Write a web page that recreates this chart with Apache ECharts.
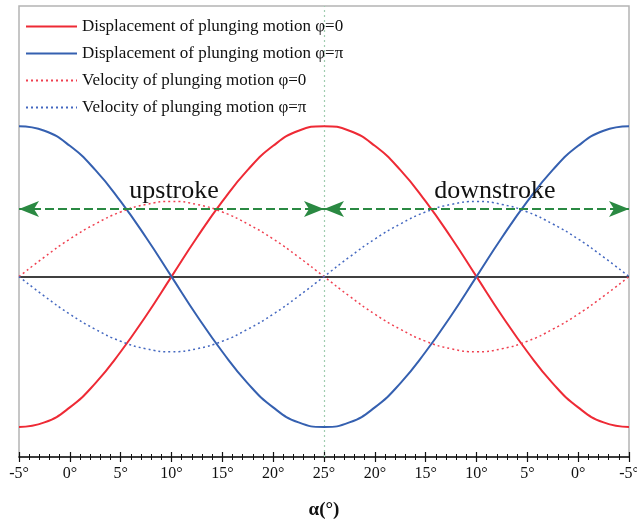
<!DOCTYPE html>
<html>
<head>
<meta charset="utf-8">
<script src="https://cdn.jsdelivr.net/npm/echarts@6/dist/echarts.min.js"></script>
<style>
  html, body { margin: 0; padding: 0; background: #fff; }
  #chart { width: 637px; height: 522px; }
</style>
</head>
<body>
<div id="chart"></div>
<script>
// tick labels along the stroke: -5° up to 25°, then back down to -5°
const tickLabels = ['-5°', '0°', '5°', '10°', '15°', '20°', '25°', '20°', '15°', '10°', '5°', '0°', '-5°'];

// sample positions (in tick steps, one step = 5°)
const xs = [0, 0.5, 1, 1.5, 2, 2.5, 3, 3.5, 4, 4.5, 5, 5.5, 6, 6.5, 7, 7.5, 8, 8.5, 9, 9.5, 10, 10.5, 11, 11.5, 12];

// values (displacement amplitude = 1)
const dispPhi0 = [-1, -0.97, -0.87, -0.71, -0.5, -0.26, 0, 0.26, 0.5, 0.71, 0.87, 0.97, 1, 0.97, 0.87, 0.71, 0.5, 0.26, 0, -0.26, -0.5, -0.71, -0.87, -0.97, -1];
const dispPhiPi = [1, 0.97, 0.87, 0.71, 0.5, 0.26, 0, -0.26, -0.5, -0.71, -0.87, -0.97, -1, -0.97, -0.87, -0.71, -0.5, -0.26, 0, 0.26, 0.5, 0.71, 0.87, 0.97, 1];
const velPhi0 = [0, 0.13, 0.25, 0.35, 0.43, 0.48, 0.5, 0.48, 0.43, 0.35, 0.25, 0.13, 0, -0.13, -0.25, -0.35, -0.43, -0.48, -0.5, -0.48, -0.43, -0.35, -0.25, -0.13, 0];
const velPhiPi = [0, -0.13, -0.25, -0.35, -0.43, -0.48, -0.5, -0.48, -0.43, -0.35, -0.25, -0.13, 0, 0.13, 0.25, 0.35, 0.43, 0.48, 0.5, 0.48, 0.43, 0.35, 0.25, 0.13, 0];

const seriesNames = [
  'Displacement of plunging motion φ=0',
  'Displacement of plunging motion φ=π',
  'Velocity of plunging motion φ=0',
  'Velocity of plunging motion φ=π'
];

// stroke arrows and labels
const arrowLevel = 0.45;
const strokeNames = ['upstroke', 'downstroke'];
const strokeLabelPos = [[3.05, 0.57], [9.36, 0.57]];

const SERIF = '"Liberation Serif", "DejaVu Serif", serif';

document.addEventListener('DOMContentLoaded', function() {
  const chart = echarts.init(document.getElementById('chart'));
  const pairs = vals => xs.map((x, i) => [x, vals[i]]);

  const tickStyle = { color: '#111', width: 1.2 };
  const minorStyle = { color: '#111', width: 1 };

  const option = {
    animation: false,
    grid: {
      left: 19, right: 8, top: 6, bottom: 65,
      outerBoundsMode: 'none', containLabel: false,
      show: true, borderColor: '#b4b4b4', borderWidth: 1.5
    },
    legend: {
      orient: 'vertical', left: 20, top: 8,
      itemWidth: 51, itemHeight: 14, itemGap: 0,
      itemStyle: { opacity: 0 },
      data: seriesNames,
      textStyle: { fontFamily: SERIF, fontSize: 17, color: '#111', lineHeight: 27 }
    },
    xAxis: [{
      type: 'value', min: 0, max: 12, interval: 1,
      name: 'α(°)', nameLocation: 'middle', nameGap: 44,
      nameTextStyle: { fontFamily: SERIF, fontSize: 19, fontWeight: 'bold', color: '#111' },
      axisLine: { onZero: false, lineStyle: { color: '#111', width: 1.5 } },
      axisTick: { show: true, length: 5, lineStyle: tickStyle },
      minorTick: { show: true, splitNumber: 5, length: 3, lineStyle: minorStyle },
      axisLabel: { margin: 9, fontFamily: SERIF, fontSize: 16, color: '#111', formatter: v => tickLabels[Math.round(v)] },
      splitLine: { show: false }
    }, {
      type: 'value', min: 0, max: 12, interval: 1, position: 'bottom',
      axisLine: { show: false, onZero: false },
      axisTick: { show: true, inside: true, length: 5, lineStyle: tickStyle },
      minorTick: { show: true, splitNumber: 5, length: 3, lineStyle: minorStyle },
      axisLabel: { show: false },
      splitLine: { show: false }
    }],
    yAxis: {
      type: 'value', min: -1.2, max: 1.8,
      axisLine: { show: false }, axisTick: { show: false },
      axisLabel: { show: false }, splitLine: { show: false }
    },
    series: [
      {
        name: seriesNames[0], type: 'line', smooth: true, symbol: 'none',
        data: pairs(dispPhi0), z: 3,
        lineStyle: { color: '#ee2a35', width: 2 }, itemStyle: { color: '#ee2a35' },
        markLine: {
          silent: true, symbol: 'none', label: { show: false }, z: 1,
          data: [
            { yAxis: 0, lineStyle: { color: '#000', width: 1.5, type: 'solid' } },
            { xAxis: 6, lineStyle: { color: '#9fcdb0', width: 1.2, type: [2, 3] } }
          ]
        }
      },
      {
        name: seriesNames[1], type: 'line', smooth: true, symbol: 'none',
        data: pairs(dispPhiPi), z: 3,
        lineStyle: { color: '#3560b0', width: 2 }, itemStyle: { color: '#3560b0' }
      },
      {
        name: seriesNames[2], type: 'line', smooth: true, symbol: 'none',
        data: pairs(velPhi0), z: 3,
        lineStyle: { color: '#f04050', width: 1.5, type: [2, 3] }, itemStyle: { color: '#f04050' },
        markLine: {
          silent: true, symbol: ['arrow', 'arrow'], symbolSize: [12, 20], label: { show: false },
          lineStyle: { color: '#2a8942', width: 2, type: [9, 4] },
          data: [
            [{ coord: [0, arrowLevel] }, { coord: [6, arrowLevel] }],
            [{ coord: [6, arrowLevel] }, { coord: [12, arrowLevel] }]
          ]
        }
      },
      {
        name: seriesNames[3], type: 'line', smooth: true, symbol: 'none',
        data: pairs(velPhiPi), z: 3,
        lineStyle: { color: '#4468c0', width: 1.5, type: [2, 3] }, itemStyle: { color: '#4468c0' },
        markPoint: {
          silent: true, symbol: 'circle', symbolSize: 0,
          label: { show: true, position: 'inside', fontFamily: SERIF, fontSize: 26, color: '#111', formatter: p => p.name },
          data: strokeNames.map((n, i) => ({ name: n, coord: strokeLabelPos[i] }))
        }
      }
    ]
  };

  chart.setOption(option);
});
</script>
</body>
</html>
